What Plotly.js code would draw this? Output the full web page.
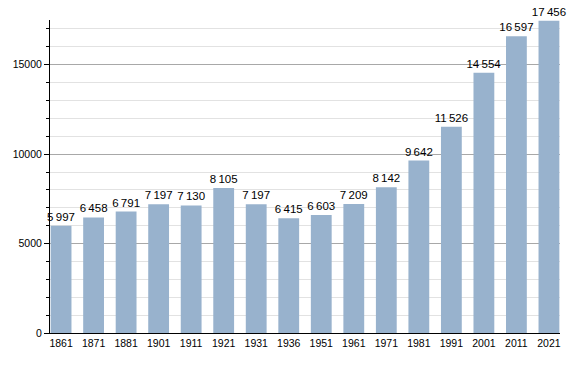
<!DOCTYPE html>
<html><head><meta charset="utf-8">
<script src="https://cdn.plot.ly/plotly-3.0.1.min.js"></script>
<style>html,body{margin:0;padding:0;background:#fff}#c{width:588px;height:373px}</style>
</head><body><div id="c"></div>
<script>
const years = ["1861","1871","1881","1901","1911","1921","1931","1936","1951","1961","1971","1981","1991","2001","2011","2021"];
const population = [5997,6458,6791,7197,7130,8105,7197,6415,6603,7209,8142,9642,11526,14554,16597,17456];
const yTicks = [0,5000,10000,15000];

const trace = {
  type: 'bar', x: years, y: population,
  marker: {color: '#98b2cd', line: {width: 0}},
  width: 0.64,
  texttemplate: '%{y:,d}', textposition: 'outside', cliponaxis: false, constraintext: 'none',
  textfont: {family: 'Liberation Sans, Arial, sans-serif', size: 11.5, color: '#000'},
  hoverinfo: 'none'
};
const layout = {
  width: 588, height: 373,
  margin: {l: 50, r: 28, t: 20, b: 40},
  separators: '.\u2009',
  paper_bgcolor: '#fff', plot_bgcolor: '#fff',
  showlegend: false,
  font: {family: 'Liberation Sans, Arial, sans-serif', size: 10, color: '#000'},
  xaxis: {type: 'category', range: [-0.34, 15.34], showline: true, linecolor: '#000', linewidth: 1,
          ticks: '', showgrid: false, zeroline: false, tickfont: {size: 10.5}},
  yaxis: {range: [0, 17500], tickvals: yTicks, tickformat: 'd', showline: true, linecolor: '#000', linewidth: 1,
          ticks: 'outside', ticklen: 5, tickcolor: '#000', showgrid: true, gridcolor: '#a8a8a8', gridwidth: 1,
          zeroline: false, tickfont: {size: 10.5},
          minor: {dtick: 1000, ticks: 'outside', ticklen: 3, tickcolor: '#000', showgrid: true, gridcolor: '#e2e2e2', gridwidth: 1}}
};
Plotly.newPlot('c', [trace], layout, {staticPlot: true});
</script></body></html>
